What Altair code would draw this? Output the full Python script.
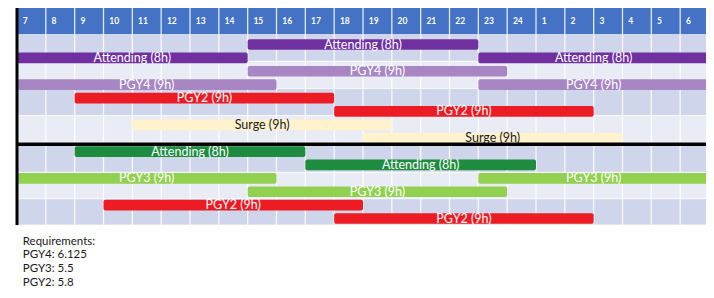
import altair as alt
import pandas as pd

# ---------------- data ----------------
hour_labels = ["7", "8", "9", "10", "11", "12", "13", "14", "15", "16", "17", "18",
               "19", "20", "21", "22", "23", "24", "1", "2", "3", "4", "5", "6"]

shift_row = [0, 1, 1, 2, 3, 3, 4, 5, 6, 7, 8, 9, 10, 10, 11, 12, 13]
shift_name = ["Attending (8h)", "Attending (8h)", "Attending (8h)",
              "PGY4 (9h)", "PGY4 (9h)", "PGY4 (9h)",
              "PGY2 (9h)", "PGY2 (9h)",
              "Surge (9h)", "Surge (9h)",
              "Attending (8h)", "Attending (8h)",
              "PGY3 (9h)", "PGY3 (9h)", "PGY3 (9h)",
              "PGY2 (9h)", "PGY2 (9h)"]
shift_start = [15, 7, 23, 15, 7, 23, 9, 18, 11, 19, 9, 17, 7, 23, 15, 10, 18]
shift_end = [23, 15, 7, 24, 16, 7, 18, 3, 20, 4, 17, 1, 16, 7, 24, 19, 3]
shift_role = ["Attending A", "Attending A", "Attending A",
              "PGY4", "PGY4", "PGY4",
              "PGY2", "PGY2",
              "Surge", "Surge",
              "Attending B", "Attending B",
              "PGY3", "PGY3", "PGY3",
              "PGY2", "PGY2"]

req_lines = ["Requirements:", "PGY4: 6.125", "PGY3: 5.5", "PGY2: 5.8"]

role_domain = ["Attending A", "PGY4", "PGY2", "Surge", "Attending B", "PGY3"]
role_colors = ["#7030a0", "#a886c4", "#ed1c24", "#fff2cc", "#1e8c3e", "#92d050"]

# ---------------- tables ----------------
def off(h):
    return (h - 7) % 24

rows = []
for r, n, s, e, role in zip(shift_row, shift_name, shift_start, shift_end, shift_role):
    a, b = off(s), off(e)
    if b <= a:
        b += 24
    rows.append({"row": r, "name": n, "start": a, "end": b, "mid": (a + b) / 2,
                 "top": r - 0.4, "bot": r + 0.4, "role": role})
shifts = pd.DataFrame(rows)

HEAD_TOP, HEAD_BOT = -2.73, -0.78
bands = []
for k in range(7):
    if k < 4:
        t = HEAD_BOT + 2.03 * k
        b = t + 2.03
    else:
        t = 7.58 + 1.97 * (k - 4)
        b = t + 1.97
    bands.append({"top": t, "bot": b, "shade": "dark" if k % 2 == 0 else "light",
                  "x0": 0, "x1": 24})
bands = pd.DataFrame(bands)
BOTTOM = bands["bot"].max()

hours = pd.DataFrame({"label": hour_labels,
                      "x": [i + 0.2 for i in range(len(hour_labels))],
                      "y": [(HEAD_TOP + HEAD_BOT) / 2] * len(hour_labels)})
gridx = pd.DataFrame({"x": list(range(1, 24)), "top": HEAD_TOP, "bot": BOTTOM})
header = pd.DataFrame({"x0": [0], "x1": [24], "top": [HEAD_TOP], "bot": [HEAD_BOT]})
borders = pd.DataFrame({"x": [0, 24], "top": HEAD_TOP, "bot": BOTTOM})
midline = pd.DataFrame({"x0": [0], "x1": [24], "y": [7.45]})
req = pd.DataFrame({"line": req_lines,
                    "x": [0.2] * len(req_lines),
                    "y": [14.72 + 1.04 * i for i in range(len(req_lines))]})

# ---------------- scales ----------------
XS = alt.Scale(domain=[0, 24], range=[9, 701], nice=False, zero=False)
YS = alt.Scale(domain=[0, 13], range=[36.5, 210.5], nice=False, zero=False)
FONT = "Lato"

band_layer = alt.Chart(bands).mark_rect().encode(
    x=alt.X("x0:Q", scale=XS, axis=None), x2="x1:Q",
    y=alt.Y("top:Q", scale=YS, axis=None), y2="bot:Q",
    color=alt.Color("shade:N", scale=alt.Scale(domain=["dark", "light"],
                                               range=["#cfd5ea", "#e9ebf5"]), legend=None),
)
band_sep = alt.Chart(bands).mark_rule(color="white", strokeWidth=1, opacity=0.8).encode(
    x=alt.X("x0:Q", scale=XS, axis=None), x2="x1:Q",
    y=alt.Y("bot:Q", scale=YS, axis=None),
)
header_layer = alt.Chart(header).mark_rect(color="#4472c4").encode(
    x=alt.X("x0:Q", scale=XS, axis=None), x2="x1:Q",
    y=alt.Y("top:Q", scale=YS, axis=None), y2="bot:Q",
)
grid_layer = alt.Chart(gridx).mark_rule(color="white", strokeWidth=1.3, opacity=0.85).encode(
    x=alt.X("x:Q", scale=XS, axis=None),
    y=alt.Y("top:Q", scale=YS, axis=None), y2="bot:Q",
)
bar_layer = alt.Chart(shifts).mark_rect(cornerRadius=2).encode(
    x=alt.X("start:Q", scale=XS, axis=None), x2="end:Q",
    y=alt.Y("top:Q", scale=YS, axis=None), y2="bot:Q",
    color=alt.Color("role:N", scale=alt.Scale(domain=role_domain, range=role_colors),
                    legend=None),
)
label_layer = alt.Chart(shifts).mark_text(font=FONT, fontSize=12.5, baseline="middle",
                                          align="center").encode(
    x=alt.X("mid:Q", scale=XS, axis=None),
    y=alt.Y("row:Q", scale=YS, axis=None),
    text="name:N",
    color=alt.condition("datum.role === 'Surge'", alt.value("#222222"), alt.value("white")),
)
hour_layer = alt.Chart(hours).mark_text(font=FONT, fontSize=8.5, fontWeight="bold",
                                        color="white", align="left",
                                        baseline="middle").encode(
    x=alt.X("x:Q", scale=XS, axis=None),
    y=alt.Y("y:Q", scale=YS, axis=None),
    text="label:N",
)
border_layer = alt.Chart(borders).mark_rule(color="black", strokeWidth=3).encode(
    x=alt.X("x:Q", scale=XS, axis=None),
    y=alt.Y("top:Q", scale=YS, axis=None), y2="bot:Q",
)
mid_layer = alt.Chart(midline).mark_rule(color="black", strokeWidth=3.5).encode(
    x=alt.X("x0:Q", scale=XS, axis=None), x2="x1:Q",
    y=alt.Y("y:Q", scale=YS, axis=None),
)
req_layer = alt.Chart(req).mark_text(font=FONT, fontSize=11.5, color="#1a1a1a",
                                     align="left", baseline="middle").encode(
    x=alt.X("x:Q", scale=XS, axis=None),
    y=alt.Y("y:Q", scale=YS, axis=None),
    text="line:N",
)

chart = alt.layer(
    band_layer, header_layer, grid_layer, band_sep, bar_layer, label_layer,
    hour_layer, border_layer, mid_layer, req_layer,
).resolve_scale(color="independent").properties(
    width=698, height=282, padding=0, autosize=alt.AutoSizeParams(type="none"),
    background="white",
).configure_view(stroke=None)

chart.save("out.html", embed_options={"renderer": "svg", "actions": False})
